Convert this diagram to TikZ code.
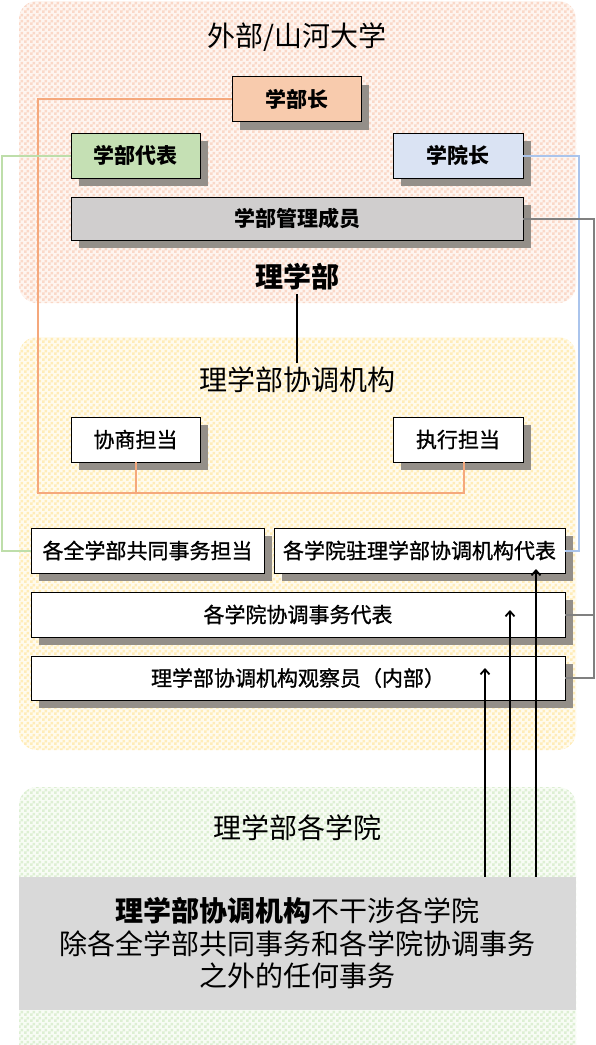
\documentclass[tikz,border=0pt]{standalone}
\usepackage{fontspec}
\setmainfont{Noto Sans CJK SC}
\newfontfamily\boxfont[FakeBold=1]{Noto Sans CJK SC}
\usetikzlibrary{shadows,arrows.meta,patterns}

% palette
\definecolor{topbase}{RGB}{254,245,240}
\definecolor{toppat}{RGB}{250,216,200}
\definecolor{midbase}{RGB}{255,251,238}
\definecolor{midpat}{RGB}{255,236,184}
\definecolor{botbase}{RGB}{248,252,245}
\definecolor{botpat}{RGB}{221,239,211}
\definecolor{deanfill}{RGB}{248,203,173}
\definecolor{repfill}{RGB}{197,224,180}
\definecolor{provfill}{RGB}{218,227,243}
\definecolor{mgmtfill}{RGB}{208,206,206}
\definecolor{notefill}{RGB}{217,217,217}
\definecolor{shadowgray}{RGB}{148,143,137}
\definecolor{linkorange}{RGB}{245,168,124}
\definecolor{linkgreen}{RGB}{190,222,170}
\definecolor{linkblue}{RGB}{170,196,236}
\definecolor{linkgray}{RGB}{128,128,128}

% small checkerboard used for the background bands
\pgfdeclarepatternformonly{checker}{\pgfpointorigin}{\pgfpoint{6pt}{6pt}}{\pgfpoint{6pt}{6pt}}{%
  \pgfpathrectangle{\pgfpointorigin}{\pgfpoint{3pt}{3pt}}%
  \pgfpathrectangle{\pgfpoint{3pt}{3pt}}{\pgfpoint{3pt}{3pt}}%
  \pgfusepath{fill}}

\tikzset{
  band/.style 2 args={rounded corners=18pt, fill=#1,
    postaction={pattern=checker, pattern color=#2}},
  unitbox/.style={draw=black, line width=0.9pt, minimum height=45pt, inner sep=0pt,
    font=\fontsize{21}{25}\boxfont,
    drop shadow={shadow xshift=8pt, shadow yshift=-8pt, fill=shadowgray, opacity=1}},
  headbox/.style={unitbox, font=\fontsize{21}{25}\selectfont\bfseries},
  bandtitle/.style={font=\fontsize{28}{32}\selectfont},
  link/.style={line width=2pt},
  uparrow/.style={line width=2pt, -{Straight Barb[length=5pt,width=9pt,line width=1.8pt]}}
}

\begin{document}
\begin{tikzpicture}[x=1pt,y=-1pt]
\useasboundingbox (0,0) rectangle (595,1045);
\clip (0,0) rectangle (595,1045);

% background bands
\path[band={topbase}{toppat}] (19,1) rectangle (576,303);
\path[band={midbase}{midpat}] (19,337) rectangle (576,750);
\path[band={botbase}{botpat}] (19,787) rectangle (576,1064);

% band titles
\node[bandtitle] (ttop) at (297,37) {外部/山河大学};
\node[bandtitle, font=\fontsize{28}{32}\selectfont\bfseries] (lxb) at (297,277) {理学部};
\node[bandtitle] (tmid) at (297,380) {理学部协调机构};
\node[bandtitle] (tbot) at (297,828) {理学部各学院};

% faculty-level boxes
\node[headbox, fill=deanfill, minimum width=129pt] (dean) at (296.5,99) {学部长};
\node[headbox, fill=repfill, minimum width=129pt] (rep) at (135.5,155.5) {学部代表};
\node[headbox, fill=provfill, minimum width=130pt] (prov) at (458,155.5) {学院长};
\node[headbox, fill=mgmtfill, minimum width=452pt, minimum height=43pt] (mgmt) at (297,218.5) {学部管理成员};

% coordination body
\node[unitbox, fill=white, minimum width=129pt] (xs) at (135.5,439.5) {协商担当};
\node[unitbox, fill=white, minimum width=130pt] (zx) at (458,439.5) {执行担当};
\node[unitbox, fill=white, minimum width=233pt] (gq) at (147.5,550.5) {各全学部共同事务担当};
\node[unitbox, fill=white, minimum width=291pt] (zl) at (419.5,550.5) {各学院驻理学部协调机构代表};
\node[unitbox, fill=white, minimum width=534pt] (xt) at (298,614.5) {各学院协调事务代表};
\node[unitbox, fill=white, minimum width=534pt, minimum height=44pt] (gc) at (298,678) {理学部协调机构观察员（内部）};

% note on the colleges
\node[fill=notefill, minimum width=557pt, minimum height=133pt, inner sep=0pt,
      align=center, font=\fontsize{28}{32.5}\selectfont] (note) at (297.5,943.5)
  {{\bfseries 理学部协调机构}不干涉各学院\\除各全学部共同事务和各学院协调事务\\之外的任何事务};

% connectors
\coordinate (obus) at (38,493);
\coordinate (gx) at (2,0);
\coordinate (bx) at (579,0);
\coordinate (rx) at (594,0);

\draw[link] (lxb.south) -- (tmid.north);
\draw[link, linkorange] (dean.west) -| (obus) -| ([xshift=6pt]zx.south);
\draw[link, linkorange] (xs.south) -- (xs.south |- obus);
\draw[link, linkgreen] (rep.west) -| (gx |- gq.west) -- (gq.west);
\draw[link, linkblue] (prov.east) -| (bx |- zl.east) -- (zl.east);
\draw[link, linkgray] (mgmt.east) -| (rx |- gc.east) -- (gc.east);
\draw[link, linkgray] (rx |- xt.east) -- (xt.east);

% arrows up from the colleges
\coordinate (a1) at (485,668);
\coordinate (a2) at (510,610);
\coordinate (a3) at (536,569);
\draw[uparrow] (a1 |- note.north) -- (a1);
\draw[uparrow] (a2 |- note.north) -- (a2);
\draw[uparrow] (a3 |- note.north) -- (a3);
\end{tikzpicture}
\end{document}
